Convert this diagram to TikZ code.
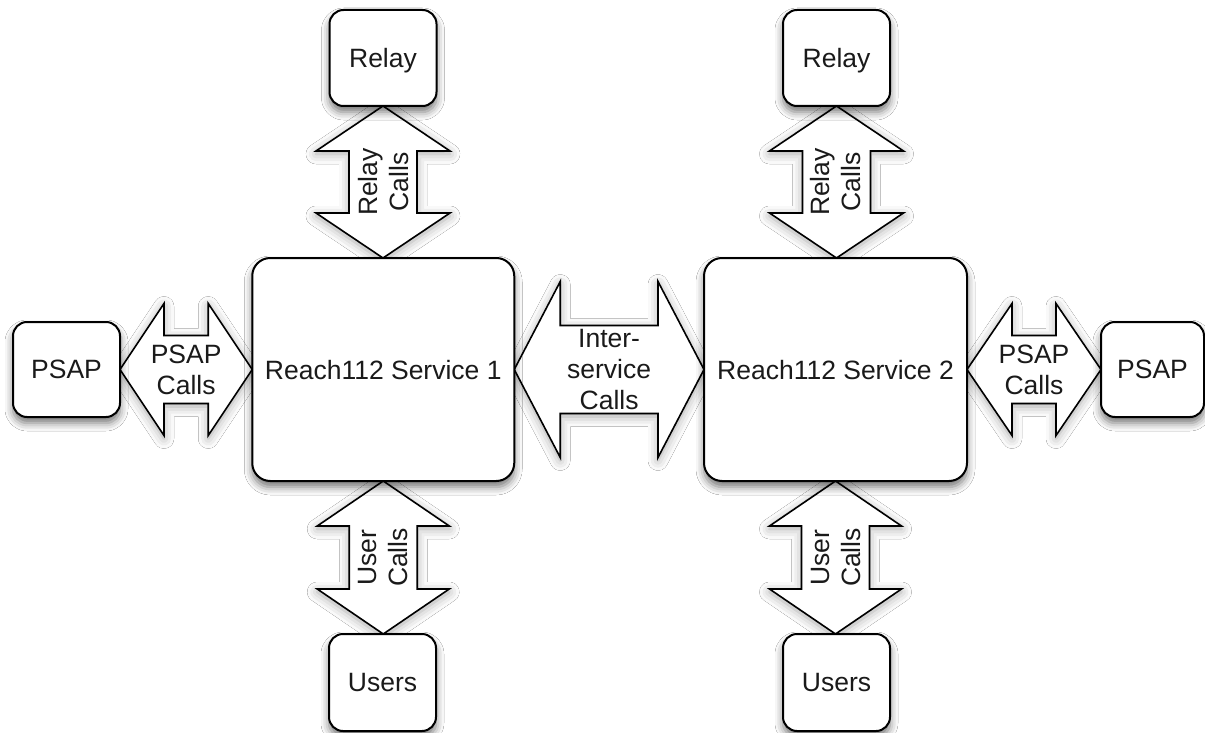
\documentclass[tikz,border=0pt]{standalone}
\usepackage{fontspec}
\setmainfont{Liberation Sans}
\usetikzlibrary{calc,shadows.blur,backgrounds}
\definecolor{txt}{HTML}{1A1A1A}
% vertical double block arrow: #1 top tip, #2 bottom tip, #3 head half width, #4 shaft half width, #5 head length
\newcommand{\vdarr}[5]{%
\path[arrowbox] let \p1=(#1), \p2=(#2) in
 (\x1,\y1) -- (\x1+#3,\y1-#5) -- (\x1+#4,\y1-#5) -- (\x1+#4,\y2+#5) -- (\x1+#3,\y2+#5)
 -- (\x1,\y2) -- (\x1-#3,\y2+#5) -- (\x1-#4,\y2+#5) -- (\x1-#4,\y1-#5) -- (\x1-#3,\y1-#5) -- cycle;}
% horizontal double block arrow: #1 left tip, #2 right tip
\newcommand{\hdarr}[5]{%
\path[arrowbox] let \p1=(#1), \p2=(#2) in
 (\x1,\y1) -- (\x1+#5,\y1+#3) -- (\x1+#5,\y1+#4) -- (\x2-#5,\y1+#4) -- (\x2-#5,\y1+#3)
 -- (\x2,\y1) -- (\x2-#5,\y1-#3) -- (\x2-#5,\y1-#4) -- (\x1+#5,\y1-#4) -- (\x1+#5,\y1-#3) -- cycle;}
\begin{document}
\begin{tikzpicture}[x=1pt,y=-1pt,
  box/.style={draw=black, line width=2pt, fill=white, rounded corners=14pt,
    inner sep=0pt, outer sep=0pt, text=txt, text depth=0pt,
    font=\fontsize{26.5}{31}\selectfont,
    blur shadow={shadow xshift=0pt, shadow yshift=-6pt, shadow blur radius=8pt, shadow opacity=55}},
  small/.style={box, minimum width=107pt, minimum height=96pt},
  big/.style={box, minimum width=262pt, minimum height=223pt, rounded corners=18pt},
  arrowbox/.style={draw=black, line width=1.6pt, fill=white, line join=miter,
    blur shadow={shadow xshift=0pt, shadow yshift=-3pt, shadow blur radius=10pt, shadow opacity=35}},
  lbl/.style={inner sep=0pt, text=txt, font=\fontsize{26.5}{31}\selectfont, align=center}]
\useasboundingbox (0,0) rectangle (1205,733);

\node[small] (relay1) at (383,58) {Relay};
\node[small] (relay2) at (836.5,58) {Relay};
\node[big] (svc1) at (383.25,369.5) {Reach112 Service 1};
\node[big, minimum width=263pt] (svc2) at (835.5,369.5) {Reach112 Service 2};
\node[small, minimum height=95pt] (psap1) at (66.5,369.5) {PSAP};
\node[small, minimum width=103pt, minimum height=95pt] (psap2) at (1152.5,369.5) {PSAP};
\node[small, minimum height=97pt] (users1) at (382.5,682.5) {Users};
\node[small, minimum height=97pt] (users2) at (836.5,682.5) {Users};

\node[lbl, rotate=90] (lrelay1) at ($(relay1.south)!0.5!(svc1.north)$) {Relay\\Calls};
\node[lbl, rotate=90] (lrelay2) at ($(relay2.south)!0.5!(svc2.north)$) {Relay\\Calls};
\node[lbl, rotate=90] (luser1) at ($(svc1.south)!0.5!(users1.north)$) {User\\Calls};
\node[lbl, rotate=90] (luser2) at ($(svc2.south)!0.5!(users2.north)$) {User\\Calls};
\node[lbl] (lpsap1) at ($(psap1.east)!0.5!(svc1.west)$) {PSAP\\Calls};
\node[lbl] (lpsap2) at ($(svc2.east)!0.5!(psap2.west)$) {PSAP\\Calls};
\node[lbl] (linter) at ($(svc1.east)!0.5!(svc2.west)$) {Inter-\\service\\Calls};

\begin{scope}[on background layer]
\fill[white] (0,0) rectangle (1205,733);
\vdarr{relay1.south}{svc1.north}{67pt}{34pt}{45pt}
\vdarr{relay2.south}{svc2.north}{67pt}{34pt}{45pt}
\vdarr{svc1.south}{users1.north}{66pt}{34pt}{45pt}
\vdarr{svc2.south}{users2.north}{66pt}{34pt}{45pt}
\hdarr{psap1.east}{svc1.west}{66pt}{34pt}{44pt}
\hdarr{svc2.east}{psap2.west}{66pt}{34pt}{45pt}
\hdarr{svc1.east}{svc2.west}{88pt}{44pt}{46pt}
\end{scope}
\end{tikzpicture}
\end{document}
